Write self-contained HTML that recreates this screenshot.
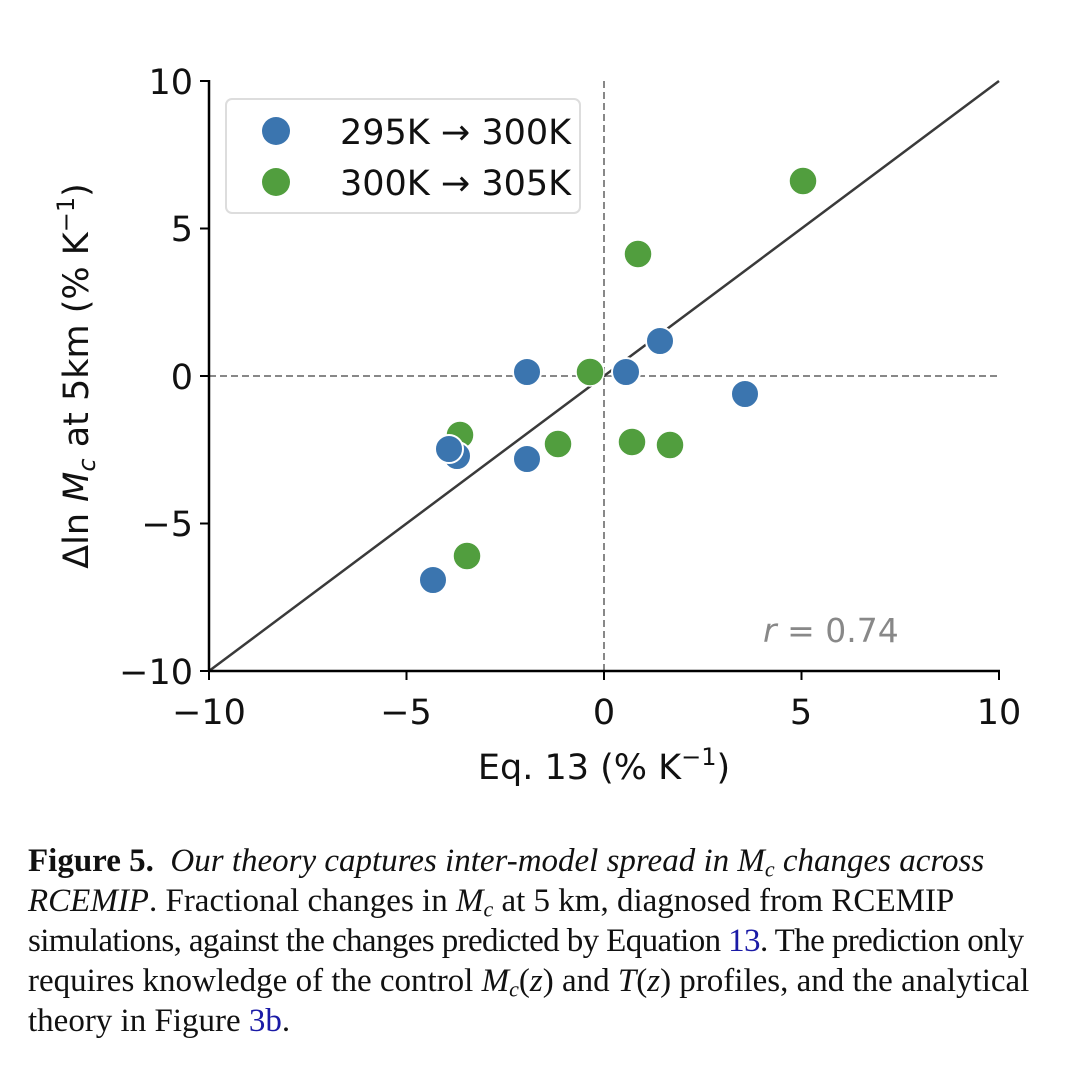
<!DOCTYPE html>
<html><head><meta charset="utf-8"><style>
html,body{margin:0;padding:0;background:#fff;width:1080px;height:1084px;overflow:hidden}
.cap{position:absolute;left:28px;top:841px;width:1050px;font-family:"Liberation Serif",serif;font-size:33px;line-height:40px;color:#111;white-space:nowrap}
.cap a{color:#1a1aa6;text-decoration:none}
.cap sub{font-size:22px;vertical-align:-0.25em;line-height:0}
</style></head><body>
<svg width="1080" height="840" style="position:absolute;left:0;top:0" font-family="DejaVu Sans, sans-serif">
<line x1="604" y1="81" x2="604" y2="671" stroke="#888" stroke-width="2" stroke-dasharray="7,4"/>
<line x1="209" y1="376" x2="999" y2="376" stroke="#888" stroke-width="2" stroke-dasharray="7,4"/>
<line x1="209" y1="671" x2="999" y2="81" stroke="#3a3a3a" stroke-width="2.5"/>
<g stroke="#fff" stroke-width="1.5">
<g fill="#519e3e">
<circle cx="803" cy="181" r="14"/><circle cx="638" cy="254" r="14"/><circle cx="590" cy="372" r="14"/>
<circle cx="558" cy="444" r="14"/><circle cx="632" cy="442" r="14"/><circle cx="670" cy="445" r="14"/>
<circle cx="460" cy="435" r="14"/><circle cx="467" cy="556" r="14"/></g>
<g fill="#3b75af" stroke-width="2">
<circle cx="527" cy="372" r="14"/><circle cx="626" cy="372" r="14"/><circle cx="660" cy="341" r="14"/>
<circle cx="745" cy="394" r="14"/><circle cx="527" cy="459" r="14"/><circle cx="457" cy="456" r="14"/>
<circle cx="449" cy="449" r="14"/><circle cx="433" cy="580" r="14"/></g></g>
<line x1="209" y1="80" x2="209" y2="672" stroke="#000" stroke-width="2.5"/>
<line x1="208" y1="671" x2="1000" y2="671" stroke="#000" stroke-width="2.5"/>
<g stroke="#000" stroke-width="2">
<line x1="200" y1="81" x2="209" y2="81"/><line x1="200" y1="228.5" x2="209" y2="228.5"/><line x1="200" y1="376" x2="209" y2="376"/><line x1="200" y1="523.5" x2="209" y2="523.5"/><line x1="200" y1="671" x2="209" y2="671"/>
<line x1="209" y1="671" x2="209" y2="680"/><line x1="406.5" y1="671" x2="406.5" y2="680"/><line x1="604" y1="671" x2="604" y2="680"/><line x1="801.5" y1="671" x2="801.5" y2="680"/><line x1="999" y1="671" x2="999" y2="680"/>
</g>
<g font-size="35" fill="#111" text-anchor="end">
<text x="193" y="94">10</text><text x="193" y="241">5</text><text x="193" y="389">0</text><text x="193" y="536">−5</text><text x="193" y="684">−10</text>
</g>
<g font-size="35" fill="#111" text-anchor="middle">
<text x="209" y="724">−10</text><text x="406" y="724">−5</text><text x="604" y="724">0</text><text x="801" y="724">5</text><text x="999" y="724">10</text>
<text x="604" y="779">Eq. 13 (% K<tspan dy="-14" font-size="24">−1</tspan><tspan dy="14">)</tspan></text>
</g>
<text transform="translate(88,376) rotate(-90)" font-size="35" fill="#111" text-anchor="middle">Δln <tspan font-style="italic">M</tspan><tspan font-size="24" font-style="italic" dy="7">c</tspan><tspan dy="-7"> at 5km (% K</tspan><tspan dy="-14" font-size="24">−1</tspan><tspan dy="14">)</tspan></text>
<text x="763" y="642" font-size="33" fill="#888"><tspan font-style="italic">r</tspan> = 0.74</text>
<rect x="226" y="99" width="354" height="114" rx="6" fill="#fff" stroke="#ddd" stroke-width="2"/>
<circle cx="276" cy="131" r="14" fill="#3b75af"/><circle cx="276" cy="182" r="14" fill="#519e3e"/>
<text x="340" y="144" font-size="35" fill="#111">295K → 300K</text>
<text x="340" y="195" font-size="35" fill="#111">300K → 305K</text>
</svg>
<div class="cap"><b>Figure 5.</b>&nbsp; <i>Our theory captures inter-model spread in M<sub>c</sub> changes across</i><br><i>RCEMIP</i>. Fractional changes in <i>M<sub>c</sub></i> at 5 km, diagnosed from RCEMIP<br><span style="letter-spacing:-0.6px">simulations, against the changes predicted by Equation <a>13</a>. The prediction only</span><br>requires knowledge of the control <i>M<sub>c</sub></i>(<i>z</i>) and <i>T</i>(<i>z</i>) profiles, and the analytical<br>theory in Figure <a>3b</a>.</div>
</body></html>
